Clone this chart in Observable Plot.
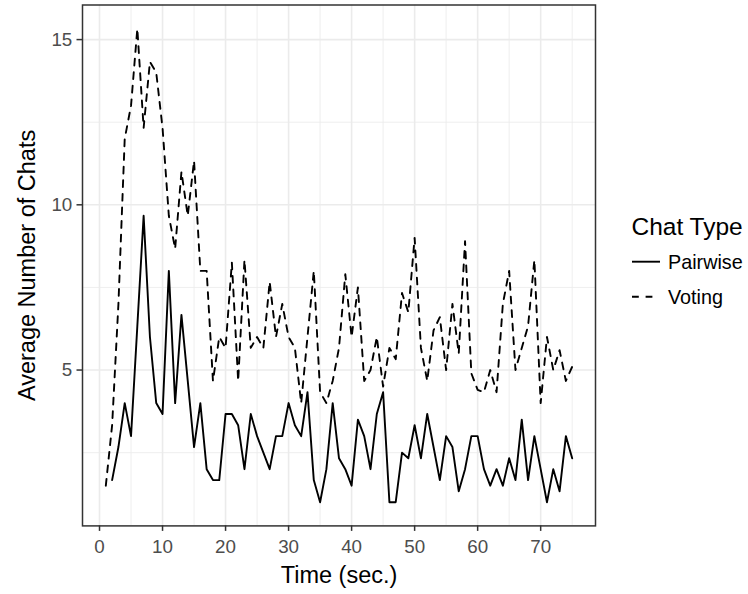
<!DOCTYPE html>
<html>
<head>
<meta charset="utf-8">
<script src="https://cdn.jsdelivr.net/npm/d3@7"></script>
<script src="https://cdn.jsdelivr.net/npm/@observablehq/plot@0.6"></script>
<style>
  html, body { margin: 0; padding: 0; background: #fff; }
  #wrap { position: relative; width: 748px; height: 594px; font-family: "Liberation Sans", Arial, sans-serif; }
  #legend { position: absolute; left: 620px; top: 200px; }
</style>
</head>
<body>
<div id="wrap"></div>
<script>
// ---- data ----
const votingTime = [1,2,3,4,5,6,7,8,9,10,11,12,13,14,15,16,17,18,19,20,21,22,23,24,25,26,27,28,29,30,31,32,33,34,35,36,37,38,39,40,41,42,43,44,45,46,47,48,49,50,51,52,53,54,55,56,57,58,59,60,61,62,63,64,65,66,67,68,69,70,71,72,73,74,75];
const votingChats = [
  1.5, 3.33, 7.0, 12.0, 13.0, 15.33, 12.33, 14.33, 14.0, 12.33,
  9.67, 8.67, 11.0, 9.67, 11.33, 8.0, 8.0, 4.67, 6.0, 5.67,
  8.25, 4.67, 8.33, 5.67, 6.0, 5.67, 7.67, 6.0, 7.0, 6.0,
  5.67, 4.0, 6.0, 8.0, 4.33, 4.0, 4.67, 5.67, 7.9, 6.0,
  7.5, 4.67, 5.0, 6.0, 4.5, 5.67, 5.33, 7.33, 6.75, 9.0,
  5.67, 4.67, 6.2, 6.6, 5.0, 7.0, 5.5, 8.9, 4.9, 4.4,
  4.33, 5.0, 4.33, 7.0, 8.0, 5.0, 5.67, 6.33, 8.33, 4.0,
  6.0, 5.0, 5.6, 4.67, 5.1
];
const pairwiseTime = [2,3,4,5,6,7,8,9,10,11,12,13,14,15,16,17,18,19,20,21,22,23,24,25,26,27,28,29,30,31,32,33,34,35,36,37,38,39,40,41,42,43,44,45,46,47,48,49,50,51,52,53,54,55,56,57,58,59,60,61,62,63,64,65,66,67,68,69,70,71,72,73,74,75];
const pairwiseChats = [
  1.67, 2.67, 4.0, 3.0, 6.33, 9.67, 6.0, 4.0, 3.67,
  8.0, 4.0, 6.67, 4.67, 2.67, 4.0, 2.0, 1.67, 1.67, 3.67,
  3.67, 3.33, 2.0, 3.67, 3.0, 2.5, 2.0, 3.0, 3.0, 4.0,
  3.33, 3.0, 4.33, 1.67, 1.0, 2.0, 4.0, 2.33, 2.0, 1.5,
  3.5, 3.0, 2.0, 3.67, 4.33, 1.0, 1.0, 2.5, 2.33, 3.33,
  2.33, 3.67, 2.67, 1.67, 3.0, 2.67, 1.33, 2.0, 3.0, 3.0,
  2.0, 1.5, 2.0, 1.5, 2.33, 1.67, 3.5, 1.67, 3.0, 2.0,
  1.0, 2.0, 1.33, 3.0, 2.33
];
const seriesNames = ["Pairwise", "Voting"];
const xTicks = [0, 10, 20, 30, 40, 50, 60, 70];
const xMinor = [5, 15, 25, 35, 45, 55, 65, 75];
const yTicks = [5, 10, 15];
const yMinor = [2.5, 7.5, 12.5];
const xTitle = "Time (sec.)";
const yTitle = "Average Number of Chats";
const legendTitle = "Chat Type";

const pairwise = pairwiseTime.map((t, i) => ({t, v: pairwiseChats[i]}));
const voting = votingTime.map((t, i) => ({t, v: votingChats[i]}));

const font = "'Liberation Sans', Arial, sans-serif";
const gridCol = "#EBEBEB";
const lw = 1.9;
const dash = "6.8,6.8";

const chart = Plot.plot({
  width: 748,
  height: 594,
  marginLeft: 82,
  marginRight: 153,
  marginTop: 4.5,
  marginBottom: 68.6,
  style: { fontFamily: font, background: "white", overflow: "visible" },
  x: { domain: [-2.7, 78.7], label: null },
  y: { domain: [0.2835, 16.0465], label: null },
  marks: [
    Plot.gridX(xMinor, { stroke: gridCol, strokeOpacity: 1, strokeWidth: 0.85 }),
    Plot.gridY(yMinor, { stroke: gridCol, strokeOpacity: 1, strokeWidth: 0.85 }),
    Plot.gridX(xTicks, { stroke: gridCol, strokeOpacity: 1, strokeWidth: 1.6 }),
    Plot.gridY(yTicks, { stroke: gridCol, strokeOpacity: 1, strokeWidth: 1.6 }),
    Plot.line(pairwise, { x: "t", y: "v", stroke: "black", strokeWidth: lw }),
    Plot.line(voting, { x: "t", y: "v", stroke: "black", strokeWidth: lw, strokeDasharray: dash }),
    Plot.frame({ stroke: "#333333", strokeWidth: 1.5 }),
    Plot.axisX(xTicks, { tickSize: 5.5, tickPadding: 8.5, fontSize: 18.8, fill: "#4D4D4D", stroke: "#333333", strokeWidth: 1.5, label: null }),
    Plot.axisY(yTicks, { tickSize: 5.5, tickPadding: 4.7, fontSize: 18.8, fill: "#4D4D4D", stroke: "#333333", strokeWidth: 1.5, label: null }),
    Plot.text([xTitle], { text: d => d, frameAnchor: "bottom", textAnchor: "middle", dy: 57.5, fontSize: 23.5, fill: "black" }),
    Plot.text([yTitle], { text: d => d, frameAnchor: "left", textAnchor: "middle", dx: -55, rotate: -90, fontSize: 23.5, fill: "black" })
  ]
});

const wrap = document.getElementById("wrap");
wrap.appendChild(chart);

// legend (ggplot style, to the right of the panel)
const ns = "http://www.w3.org/2000/svg";
const leg = document.createElementNS(ns, "svg");
leg.setAttribute("id", "legend");
leg.setAttribute("width", 128);
leg.setAttribute("height", 120);
leg.style.fontFamily = font;
function el(name, attrs, text) {
  const e = document.createElementNS(ns, name);
  for (const k in attrs) e.setAttribute(k, attrs[k]);
  if (text) e.textContent = text;
  leg.appendChild(e);
  return e;
}
el("text", { x: 11.5, y: 35, "font-size": 24.5, fill: "black" }, legendTitle);
const rows = [{ y: 61.7, dash: null, x2: 40 }, { y: 96.7, dash: dash, x2: 38.6 }];
seriesNames.forEach((name, i) => {
  const r = rows[i];
  const a = { x1: 12, x2: r.x2, y1: r.y, y2: r.y, stroke: "black", "stroke-width": lw };
  if (r.dash) a["stroke-dasharray"] = r.dash;
  el("line", a);
  el("text", { x: 48, y: r.y + 7, "font-size": 19.8, fill: "black" }, name);
});
wrap.appendChild(leg);
</script>
</body>
</html>
